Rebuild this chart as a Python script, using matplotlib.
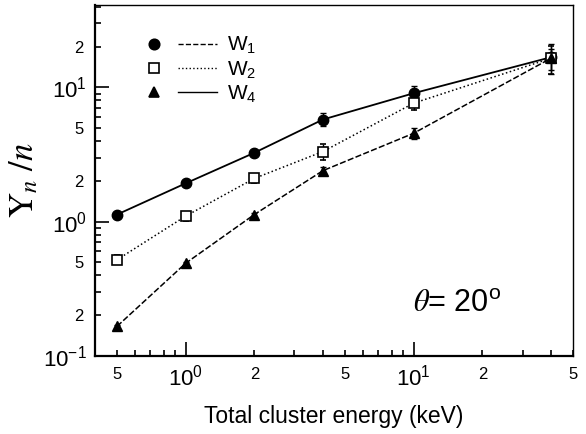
import matplotlib
matplotlib.use("Agg")
import matplotlib.pyplot as plt
from matplotlib.lines import Line2D
from matplotlib.ticker import FixedLocator, FixedFormatter

plt.rcParams['font.family'] = ['Liberation Sans', 'DejaVu Sans']
plt.rcParams['mathtext.fontset'] = 'stix'

# ---- data ----
energy = [0.5, 1.0, 2.0, 4.0, 10.0, 40.0]
circ_y = [1.13, 1.93, 3.26, 5.77, 9.06, 16.8]
circ_err = [0.03, 0.05, 0.08, 0.65, 1.2, 4.2]
sq_y = [0.52, 1.10, 2.10, 3.33, 7.64, 16.5]
sq_err = [0.04, 0.08, 0.15, 0.45, 0.85, 4.0]
tri_y = [0.166, 0.49, 1.13, 2.40, 4.56, 16.5]
tri_err = [0.004, 0.01, 0.03, 0.15, 0.40, 3.0]
legend_labels = [r'$\mathregular{W_1}$', r'$\mathregular{W_2}$', r'$\mathregular{W_4}$']

x_major = [1, 10]
x_major_labels = [r'$\mathregular{10^{0}}$', r'$\mathregular{10^{1}}$']
x_minor = [0.5, 0.6, 0.7, 0.8, 0.9, 2, 3, 4, 5, 6, 7, 8, 9, 20, 30, 40, 50]
x_minor_labels = ['5', '', '', '', '', '2', '', '', '5', '', '', '', '', '2', '', '', '5']
y_major = [0.1, 1, 10]
y_major_labels = [r'$\mathregular{10^{-1}}$', r'$\mathregular{10^{0}}$', r'$\mathregular{10^{1}}$']
y_minor = [0.2, 0.3, 0.4, 0.5, 0.6, 0.7, 0.8, 0.9, 2, 3, 4, 5, 6, 7, 8, 9, 20, 30, 40]
y_minor_labels = ['2', '', '', '5', '', '', '', '', '2', '', '', '5', '', '', '', '', '2', '', '']

fig = plt.figure(figsize=(5.86, 4.34), dpi=100)
ax = fig.add_axes([0.162, 0.180, 0.816, 0.808])
ax.set_xscale('log')
ax.set_yscale('log')

ax.errorbar(energy, circ_y, yerr=circ_err, fmt='o', ls='-', color='black', lw=1.3,
            ms=7.5, capsize=2, elinewidth=1, zorder=3)
ax.errorbar(energy, sq_y, yerr=sq_err, fmt='s', ls=':', color='black', lw=1.1,
            ms=7.5, mfc='white', mew=1.2, capsize=2, elinewidth=1, zorder=3)
ax.errorbar(energy, tri_y, yerr=tri_err, fmt='^', ls='--', color='black', lw=1.1,
            ms=7, capsize=2, elinewidth=1, dashes=(4, 1.5), zorder=3)

ax.set_xlim(0.4, 50)
ax.set_ylim(0.1, 41)

ax.xaxis.set_major_locator(FixedLocator(x_major))
ax.xaxis.set_major_formatter(FixedFormatter(x_major_labels))
ax.xaxis.set_minor_locator(FixedLocator(x_minor))
ax.xaxis.set_minor_formatter(FixedFormatter(x_minor_labels))
ax.yaxis.set_major_locator(FixedLocator(y_major))
ax.yaxis.set_major_formatter(FixedFormatter(y_major_labels))
ax.yaxis.set_minor_locator(FixedLocator(y_minor))
ax.yaxis.set_minor_formatter(FixedFormatter(y_minor_labels))

ax.tick_params(which='both', direction='in', top=False, right=False, width=1.2)
ax.tick_params(which='major', length=10, labelsize=16, pad=6)
ax.tick_params(which='minor', length=4.5, labelsize=12, pad=8)

for s in ['left', 'bottom']:
    ax.spines[s].set_linewidth(1.6)
for s in ['top', 'right']:
    ax.spines[s].set_linewidth(1.0)

ax.set_xlabel('Total cluster energy (keV)', fontsize=16.5, labelpad=11)
ax.set_ylabel(r'$\mathrm{Y}_n\ /n$', fontsize=25, labelpad=2)

ax.text(0.665, 0.125, r'$\theta$= 20$^{\mathregular{o}}$', transform=ax.transAxes,
        fontsize=22, ha='left', va='baseline')


class MarkerThenLine:
    def __init__(self, marker, mfc, ls, ms):
        self.marker, self.mfc, self.ls, self.ms = marker, mfc, ls, ms

    def legend_artist(self, legend, orig_handle, fontsize, handlebox):
        x0, y0 = handlebox.xdescent, handlebox.ydescent
        w, h = handlebox.width, handlebox.height
        t = handlebox.get_transform()
        m = Line2D([x0 + 0.09 * w], [y0 + h / 2], marker=self.marker, ls='none',
                   color='black', mfc=self.mfc, ms=self.ms, mew=1.2, transform=t)
        l = Line2D([x0 + 0.44 * w, x0 + w], [y0 + h / 2] * 2, ls=self.ls,
                   color='black', lw=1.0, transform=t)
        handlebox.add_artist(m)
        handlebox.add_artist(l)
        return l


styles = [('o', 'black', '--', 7.5), ('s', 'white', ':', 7.5), ('^', 'black', '-', 6.5)]
handles = [Line2D([], []) for _ in styles]
hmap = {h: MarkerThenLine(*st) for h, st in zip(handles, styles)}
ax.legend(handles, legend_labels, handler_map=hmap, loc='upper left',
          bbox_to_anchor=(0.08, 0.957), frameon=False, fontsize=15,
          handlelength=3.3, handletextpad=0.5, labelspacing=0.15,
          borderpad=0.2)

fig.savefig('out.png', dpi=100)
